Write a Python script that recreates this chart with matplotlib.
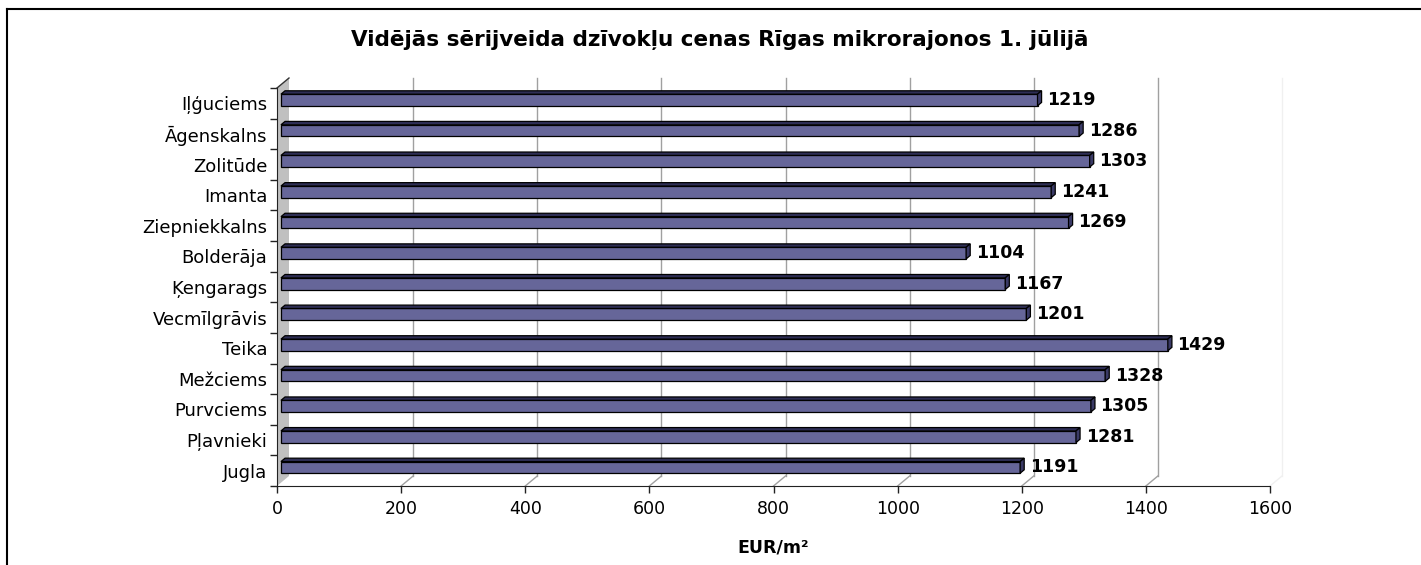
import matplotlib
matplotlib.use("Agg")
import matplotlib.pyplot as plt
from matplotlib.patches import Polygon
from matplotlib.lines import Line2D

plt.rcParams['font.family'] = ['DejaVu Sans']

# Dati (no augšas uz leju)
rajoni = ['Iļģuciems', 'Āgenskalns', 'Zolitūde', 'Imanta', 'Ziepniekkalns',
          'Bolderāja', 'Ķengarags', 'Vecmīlgrāvis', 'Teika', 'Mežciems',
          'Purvciems', 'Pļavnieki', 'Jugla']
cenas = [1219, 1286, 1303, 1241, 1269, 1104, 1167, 1201, 1429, 1328,
         1305, 1281, 1191]
x_ticks = [0, 200, 400, 600, 800, 1000, 1200, 1400, 1600]

virsraksts = 'Vidējās sērijveida dzīvokļu cenas Rīgas mikrorajonos 1. jūlijā'
ass_nosaukums = 'EUR/m²'

# secība no apakšas
rajoni_r = rajoni[::-1]
cenas_r = cenas[::-1]
n = len(rajoni_r)

fig = plt.figure(figsize=(14.21, 5.65), dpi=100)
ax = fig.add_axes([277/1421, 79/565, 993/1421, 398/565])
ax.set_xlim(0, 1600)
ax.set_ylim(-0.5, n - 0.5)

# 3D dziļums datu vienībās
DX = 12 / (993 / 1600)
DY = 10 / (398 / n)
f0, f1 = 0.33, 0.67
h = 0.38

# sānu siena
ax.add_patch(Polygon([(0, -0.5), (DX, -0.5 + DY), (DX, n - 0.5 + DY), (0, n - 0.5)],
                     closed=True, facecolor='#c0c0c0', edgecolor='none',
                     clip_on=False, zorder=1))
ax.add_line(Line2D([0, DX], [n - 0.5, n - 0.5 + DY], color='#333333', lw=1,
                   clip_on=False, zorder=2))

# režģis aizmugurē + grīdas diagonāles
for v in x_ticks[1:]:
    col = '#a0a0a0' if v < 1600 else '#f0f0f0'
    ax.add_line(Line2D([v + DX, v + DX], [-0.5 + DY, n - 0.5 + DY], color=col,
                       lw=1, clip_on=False, zorder=1))
    ax.add_line(Line2D([v, v + DX], [-0.5, -0.5 + DY], color=col, lw=1,
                       clip_on=False, zorder=1))

# stabiņi
y = [i + f0 * DY for i in range(n)]
ax.barh(y, cenas_r, left=f0 * DX, height=h, color='#666699',
        edgecolor='black', linewidth=0.9, zorder=3, clip_on=False)
for i, v in enumerate(cenas_r):
    yc0 = i + f0 * DY
    yc1 = i + f1 * DY
    top = [(f0 * DX, yc0 + h/2), (v + f0 * DX, yc0 + h/2),
           (v + f1 * DX, yc1 + h/2), (f1 * DX, yc1 + h/2)]
    side = [(v + f0 * DX, yc0 - h/2), (v + f0 * DX, yc0 + h/2),
            (v + f1 * DX, yc1 + h/2), (v + f1 * DX, yc1 - h/2)]
    ax.add_patch(Polygon(top, closed=True, facecolor='#2e2e55',
                         edgecolor='black', lw=0.9, zorder=3, clip_on=False))
    ax.add_patch(Polygon(side, closed=True, facecolor='#3a3a66',
                         edgecolor='black', lw=0.9, zorder=3, clip_on=False))
    ax.annotate(str(v), (v + f1 * DX, yc0), xytext=(4, 0),
                textcoords='offset points', ha='left', va='center',
                fontsize=12.5, fontweight='bold', zorder=4)

# asis
for s in ['top', 'right']:
    ax.spines[s].set_visible(False)
ax.spines['left'].set_color('#222222')
ax.spines['bottom'].set_color('#222222')
ax.spines['left'].set_zorder(5)
ax.spines['bottom'].set_zorder(5)
ax.set_xticks(x_ticks)
ax.tick_params(axis='x', length=5, width=1, color='#222222', labelsize=12.5, pad=5)
ax.set_yticks(range(n))
ax.set_yticklabels(rajoni_r)
ax.set_yticks([i - 0.5 for i in range(n + 1)], minor=True)
ax.tick_params(axis='y', which='major', length=0, labelsize=13, pad=7)
ax.tick_params(axis='y', which='minor', length=5, width=1, color='#222222')

fig.text(720/1421, 1 - 40/565, virsraksts, ha='center', va='center',
         fontsize=15.5, fontweight='bold')
fig.text(773/1421, 1 - 548/565, ass_nosaukums, ha='center', va='center',
         fontsize=12.5, fontweight='bold')

# rāmis
fig.add_artist(Line2D([7/1421, 7/1421], [0, 1 - 9/565], color='black', lw=1.5))
fig.add_artist(Line2D([7/1421, 1], [1 - 9/565, 1 - 9/565], color='black', lw=1.5))

fig.savefig('out.png', dpi=100)
